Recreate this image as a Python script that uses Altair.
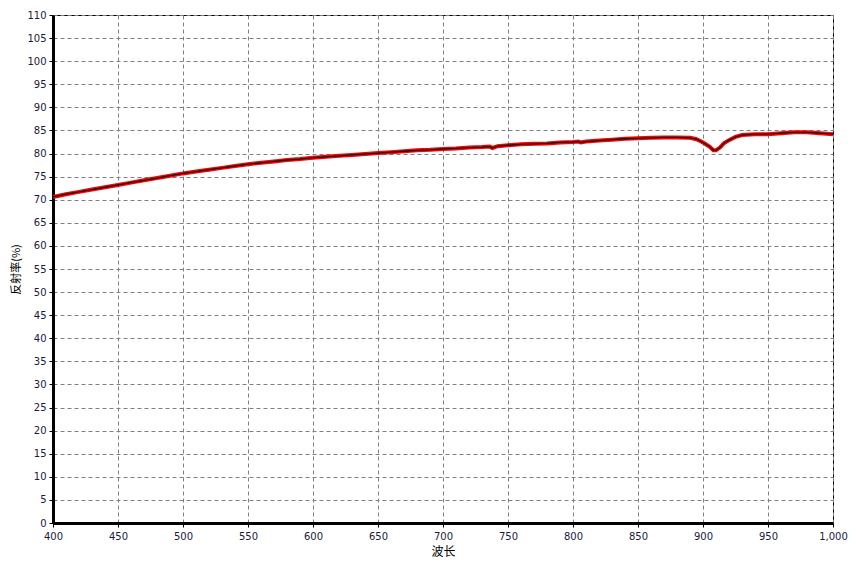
import altair as alt
import pandas as pd

wavelength = [400, 410, 420, 430, 440, 450, 460, 470, 480, 490,
              500, 510, 520, 530, 540, 550, 560, 570, 580, 590,
              600, 610, 620, 630, 640, 650, 660, 670, 680, 690,
              700, 710, 720, 730, 736, 738, 742, 750, 760, 770, 780, 790,
              800, 804, 806, 810, 820, 830, 840, 850, 860, 870, 880, 890,
              895, 900, 905, 908, 910, 913, 916, 920, 925, 930,
              940, 950, 960, 970, 980, 990, 1000]
reflectance = [70.6, 71.2, 71.7, 72.2, 72.7, 73.2, 73.7, 74.2, 74.7, 75.2,
               75.7, 76.1, 76.5, 76.9, 77.3, 77.7, 78.0, 78.3, 78.6, 78.8,
               79.1, 79.3, 79.5, 79.7, 79.9, 80.1, 80.3, 80.5, 80.7, 80.8,
               81.0, 81.1, 81.3, 81.4, 81.5, 81.2, 81.6, 81.8, 82.0, 82.1, 82.2, 82.4,
               82.5, 82.6, 82.4, 82.6, 82.8, 83.0, 83.2, 83.3, 83.4, 83.5, 83.5, 83.4,
               83.1, 82.4, 81.5, 80.7, 80.7, 81.3, 82.2, 82.9, 83.6, 84.0,
               84.2, 84.2, 84.4, 84.6, 84.6, 84.4, 84.2]

x_ticks = [400, 450, 500, 550, 600, 650, 700, 750, 800, 850, 900, 950, 1000]
y_ticks = list(range(0, 111, 5))

df = pd.DataFrame({"wavelength": wavelength, "reflectance": reflectance})

FONT = "DejaVu Sans"

x_scale = alt.Scale(domain=[400, 1000], nice=False, zero=False)
y_scale = alt.Scale(domain=[0, 110], nice=False)

main_x_axis = alt.Axis(
    values=x_ticks, format=",.0f", title="波长", grid=True,
    gridColor="#808080", gridDash=[4, 3], gridWidth=1,
    domainColor="#000000", domainWidth=3, tickColor="#000000", tickSize=4,
    labelFont=FONT, labelFontSize=10, labelColor="#1a1a3a", labelPadding=4,
    titleFont="Noto Sans CJK SC", titleFontSize=12, titleFontWeight="normal",
    titleColor="#000000", titlePadding=5, labelFlush=False, labelOverlap=False,
)
main_y_axis = alt.Axis(
    values=y_ticks, format="d", title="反射率(%)", grid=True,
    gridColor="#808080", gridDash=[4, 3], gridWidth=1,
    domainColor="#000000", domainWidth=3, tickColor="#000000", tickSize=4,
    labelFont=FONT, labelFontSize=10, labelColor="#1a1a3a", labelPadding=3,
    titleFont="Noto Sans CJK SC", titleFontSize=11, titleFontWeight="normal",
    titleColor="#000000", titlePadding=5, labelOverlap=False,
)

base = alt.Chart(df)

red = base.mark_line(color="#ff0000", strokeWidth=4).encode(
    x=alt.X("wavelength:Q", scale=x_scale, axis=main_x_axis),
    y=alt.Y("reflectance:Q", scale=y_scale, axis=main_y_axis),
)
black = base.mark_line(color="#111111", strokeWidth=1.3).encode(
    x=alt.X("wavelength:Q", scale=x_scale, axis=main_x_axis),
    y=alt.Y("reflectance:Q", scale=y_scale, axis=main_y_axis),
)

chart = alt.layer(red, black).properties(
    width=780, height=508,
    autosize=alt.AutoSizeParams(type="none"),
    padding={"left": 45, "top": 7, "right": 16, "bottom": 40},
).configure_view(stroke="#000000", strokeWidth=1)

chart.save("out.html", embed_options={"renderer": "svg", "actions": False})
